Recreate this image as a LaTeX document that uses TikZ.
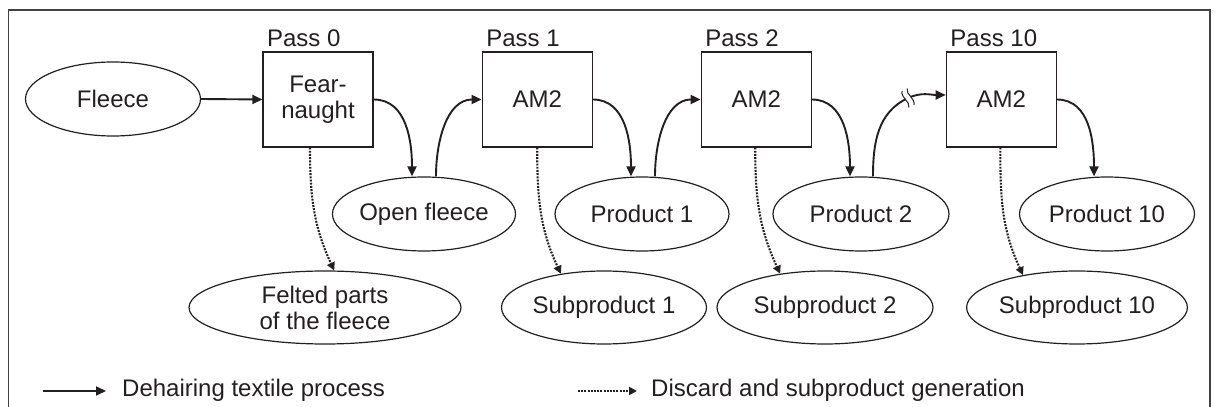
\documentclass[tikz,border=0pt]{standalone}
\usepackage{fontspec}
\setmainfont{Liberation Sans}
\usetikzlibrary{arrows.meta,shapes.geometric,calc}
\definecolor{ink}{RGB}{35,31,32}
\begin{document}
\begin{tikzpicture}[x=1pt,y=1pt,
  font=\fontsize{24}{26}\selectfont,
  proc/.style={draw=ink, line width=1.2pt, minimum width=110pt, minimum height=95pt,
    inner sep=0pt, align=center, text=ink},
  item/.style={ellipse, draw=ink, line width=1.2pt, inner sep=0pt, align=center, text=ink},
  passlabel/.style={anchor=base west, inner sep=0pt, text=ink},
  legendtext/.style={anchor=base west, inner sep=0pt, text=ink},
  flow/.style={draw=ink, line width=1.9pt, -{Triangle[length=10pt,width=9pt]}},
  plainflow/.style={draw=ink, line width=1.9pt},
  waste/.style={draw=ink, line width=2.1pt, dash pattern=on 1.9pt off 1.3pt,
    -{Triangle[length=8pt,width=8pt]}},
  breakmark/.style={draw=ink, line width=1pt},
]
\useasboundingbox (0,0) rectangle (1216,407);
\clip (0,0) rectangle (1216,407);

% outer frame (open at the bottom edge)
\draw[draw=ink!85, line width=1.3pt] (8.7,-10) rectangle (1210,397);

% passes through the machines
\node[proc] (b0)  at (318,307.5)    {Fear-\\naught};
\node[proc] (b1)  at (537.2,307.5)  {AM2};
\node[proc] (b2)  at (756.2,307.5)  {AM2};
\node[proc] (b10) at (1001.3,307.5) {AM2};

\node[passlabel] (l0)  at ($(b0.north west)+(4.5,5.3)$)  {Pass 0};
\node[passlabel] (l1)  at ($(b1.north west)+(4.5,5.3)$)  {Pass 1};
\node[passlabel] (l2)  at ($(b2.north west)+(4.5,5.3)$)  {Pass 2};
\node[passlabel] (l10) at ($(b10.north west)+(4.5,5.3)$) {Pass 10};

% material
\node[item, minimum width=175pt, minimum height=74pt] (fl)  at (113,308)  {Fleece};
\node[item, minimum width=176pt, minimum height=74pt] (of)  at (424,193)  {Open fleece};
\node[item, minimum width=174pt, minimum height=74pt] (p1)  at (642,193)  {Product 1};
\node[item, minimum width=176pt, minimum height=74pt] (p2)  at (861,193)  {Product 2};
\node[item, minimum width=175pt, minimum height=74pt] (p10) at (1107,193) {Product 10};

\node[item, minimum width=272pt, minimum height=73pt] (fe)   at (325,99.5)  {Felted parts\\of the fleece};
\node[item, minimum width=205pt, minimum height=73pt] (s1)   at (604,99.5)  {Subproduct 1};
\node[item, minimum width=216pt, minimum height=73pt] (s2)   at (825,99.5)  {Subproduct 2};
\node[item, minimum width=209pt, minimum height=73pt] (s10)  at (1077,99.5) {Subproduct 10};

% dehairing process
\draw[flow] (fl.east) -- (b0.west);
\draw[flow] (b0.east) to[out=0,in=90] ($(of.north)+(-12,0)$);
\draw[flow] ($(of.north)+(12,0)$) to[out=90,in=180] (b1.west);
\draw[flow] (b1.east) to[out=0,in=90] ($(p1.north)+(-11,0)$);
\draw[flow] ($(p1.north)+(13,0)$) to[out=90,in=180] (b2.west);
\draw[flow] (b2.east) to[out=0,in=90] ($(p2.north)+(-11,0)$);
\draw[flow] (b10.east) to[out=0,in=90] ($(p10.north)+(-13,0)$);

% interrupted run from pass 2 to pass 10
\coordinate (brk) at (908,309);
\draw[plainflow] ($(p2.north)+(12,0)$) to[out=90,in=205] (brk);
\draw[flow] (brk) to[out=25,in=180] ($(b10.west)+(0,4.5)$);
\begin{scope}[shift={(brk)}, rotate=25]
  \fill[white] (-2.6,-9) rectangle (2.6,9);
  \draw[breakmark] (-3.2,-9) .. controls (0.8,-4) and (-6.8,3) .. (-2.4,9);
  \draw[breakmark] (2.4,-9) .. controls (6.8,-3) and (-0.8,4) .. (3.2,9);
\end{scope}

% discard and subproducts
\draw[waste] ($(b0.south)+(-8,0)$) to[out=-90,in=115] (fe.76);
\draw[waste] (b1.south) to[out=-90,in=115] (s1.142);
\draw[waste] ($(b2.south)+(-1,0)$) to[out=-90,in=115] (s2.143);
\draw[waste] ($(b10.south)+(-1,0)$) to[out=-90,in=115] (s10.149);

% legend
\coordinate (k1a) at (43,16);
\coordinate (k1b) at (106,16);
\coordinate (k2a) at (578,16);
\coordinate (k2b) at (637,16);
\draw[flow] (k1a) -- (k1b);
\node[legendtext] (t1) at (122,10) {Dehairing textile process};
\draw[waste] (k2a) -- (k2b);
\node[legendtext] (t2) at (651,10) {Discard and subproduct generation};
\end{tikzpicture}
\end{document}
